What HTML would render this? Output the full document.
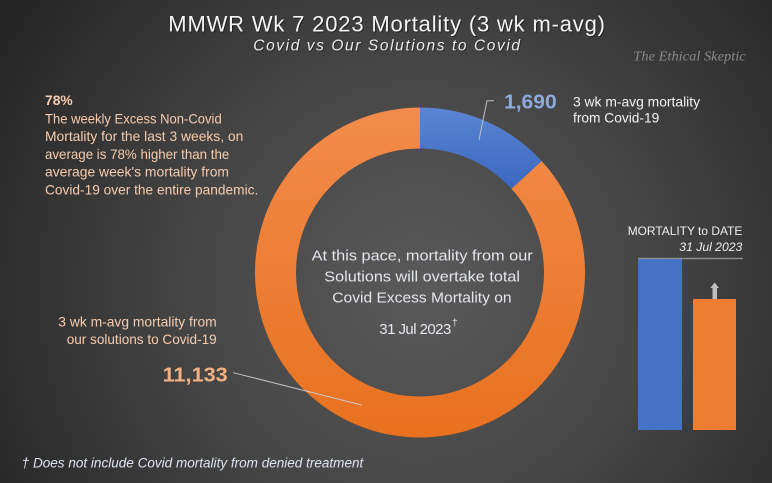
<!DOCTYPE html>
<html><head><meta charset="utf-8"><style>
html,body{margin:0;padding:0;background:#2a2a2a;}
svg{display:block;}
</style></head><body>
<svg width="772" height="483" viewBox="0 0 772 483" xmlns="http://www.w3.org/2000/svg">
<defs>
<radialGradient id="bg" cx="420" cy="290" r="500" gradientUnits="userSpaceOnUse">
<stop offset="0" stop-color="#5a5a5a"/>
<stop offset="0.45" stop-color="#464646"/>
<stop offset="1" stop-color="#242424"/>
</radialGradient>
<linearGradient id="og" x1="0" y1="107" x2="0" y2="438" gradientUnits="userSpaceOnUse">
<stop offset="0" stop-color="#f28b4c"/>
<stop offset="1" stop-color="#e8711e"/>
</linearGradient>
<linearGradient id="bgr" x1="0" y1="107" x2="0" y2="190" gradientUnits="userSpaceOnUse">
<stop offset="0" stop-color="#5b86d3"/>
<stop offset="1" stop-color="#3a67c1"/>
</linearGradient>
</defs>
<rect width="772" height="483" fill="url(#bg)"/>

<!-- Title -->
<text x="169.3" y="32.7" font-family="Liberation Sans, sans-serif" font-size="22" fill="#111" opacity="0.6" textLength="436.7" lengthAdjust="spacing">MMWR  Wk 7 2023 Mortality  (3 wk m-avg)</text>
<text x="168.3" y="31.7" font-family="Liberation Sans, sans-serif" font-size="22" fill="#f4f4f4" textLength="436.7" lengthAdjust="spacing">MMWR  Wk 7 2023 Mortality  (3 wk m-avg)</text>
<text x="254.3" y="51.7" font-family="Liberation Sans, sans-serif" font-style="italic" font-size="15.5" fill="#111" opacity="0.5" textLength="266.7" lengthAdjust="spacing">Covid vs Our Solutions to Covid</text>
<text x="253.3" y="50.7" font-family="Liberation Sans, sans-serif" font-style="italic" font-size="15.5" fill="#ececec" textLength="266.7" lengthAdjust="spacing">Covid vs Our Solutions to Covid</text>
<text x="633.3" y="60.7" font-family="Liberation Serif, serif" font-style="italic" font-size="14" fill="#8a8a8a" textLength="112.4" lengthAdjust="spacingAndGlyphs">The Ethical Skeptic</text>

<!-- Left text block -->
<g font-family="Liberation Sans, sans-serif" font-size="13.7" fill="#f8cbad">
<text x="45" y="105" font-weight="bold" textLength="27.7" lengthAdjust="spacingAndGlyphs">78%</text>
<text x="45" y="123.3" textLength="176.7" lengthAdjust="spacingAndGlyphs">The weekly Excess Non-Covid</text>
<text x="45" y="141.0" textLength="198.3" lengthAdjust="spacingAndGlyphs">Mortality for the last 3  weeks, on</text>
<text x="45" y="158.8" textLength="184.3" lengthAdjust="spacingAndGlyphs">average is 78%  higher than the</text>
<text x="45" y="176.5" textLength="184" lengthAdjust="spacingAndGlyphs">average week's mortality from</text>
<text x="45" y="194.3" textLength="213.3" lengthAdjust="spacingAndGlyphs">Covid-19 over the entire pandemic.</text>
</g>

<!-- Donut -->
<path d="M541.65,161.03 A165,165 0 1 1 420,107.5 L420,148.5 A124,124 0 1 0 511.42,188.73 Z" fill="url(#og)"/>
<path d="M420,107.5 A165,165 0 0 1 541.65,161.03 L511.42,188.73 A124,124 0 0 0 420,148.5 Z" fill="url(#bgr)"/>

<!-- Blue leader -->
<polyline points="479,140 487,100.7 494,100.7" fill="none" stroke="#bfbfbf" stroke-width="1"/>
<text x="504" y="108.3" font-family="Liberation Sans, sans-serif" font-weight="bold" font-size="20.5" fill="#8eaadc" textLength="52.7" lengthAdjust="spacingAndGlyphs">1,690</text>
<g font-family="Liberation Sans, sans-serif" font-size="13.7" fill="#f2f2f2">
<text x="573" y="106.7" textLength="127" lengthAdjust="spacingAndGlyphs">3 wk m-avg mortality</text>
<text x="573" y="122.7" textLength="86.3" lengthAdjust="spacingAndGlyphs">from Covid-19</text>
</g>

<!-- Center text -->
<g font-family="Liberation Sans, sans-serif" font-size="15" fill="#e2e5ec">
<text x="311.7" y="260.7" textLength="221" lengthAdjust="spacingAndGlyphs">At this pace,  mortality from our</text>
<text x="324.3" y="281.7" textLength="195.7" lengthAdjust="spacingAndGlyphs">Solutions will overtake total</text>
<text x="332.3" y="302.7" textLength="179.3" lengthAdjust="spacingAndGlyphs">Covid Excess  Mortality on</text>
<text x="379.3" y="334" textLength="72" lengthAdjust="spacing">31 Jul 2023</text>
<text x="452" y="326" font-size="10">†</text>
</g>

<!-- Bottom-left label -->
<g font-family="Liberation Sans, sans-serif" font-size="13.7" fill="#f8cbad">
<text x="58.3" y="326.5" textLength="158.4" lengthAdjust="spacingAndGlyphs">3 wk m-avg mortality from</text>
<text x="66.7" y="343.8" textLength="150" lengthAdjust="spacingAndGlyphs">our solutions to Covid-19</text>
</g>
<text x="162.7" y="381.7" font-family="Liberation Sans, sans-serif" font-weight="bold" font-size="20.5" fill="#f4b183" textLength="65" lengthAdjust="spacingAndGlyphs">11,133</text>
<line x1="233.3" y1="372.7" x2="361.7" y2="405" stroke="#c8c8c8" stroke-width="1"/>

<!-- Right bars -->
<g font-family="Liberation Sans, sans-serif" font-size="12" fill="#eeeeee">
<text x="627.7" y="235" textLength="114.6" lengthAdjust="spacingAndGlyphs">MORTALITY to DATE</text>
<text x="679.3" y="251" font-style="italic" textLength="63" lengthAdjust="spacingAndGlyphs">31 Jul 2023</text>
</g>
<rect x="638" y="258" width="44" height="172" fill="#4472c4"/>
<rect x="693" y="299" width="43" height="131" fill="#ed7d31"/>
<line x1="638" y1="258.5" x2="743" y2="258.5" stroke="#8c8c8c" stroke-width="1.5"/>
<rect x="712.5" y="288" width="4.5" height="11" fill="#bfbfbf"/>
<polygon points="710.3,288 719,288 714.7,282.5" fill="#bfbfbf"/>

<!-- Footnote -->
<text x="21.7" y="467.7" font-family="Liberation Sans, sans-serif" font-style="italic" font-size="13.5" fill="#dde3f0" textLength="341.6" lengthAdjust="spacingAndGlyphs">† Does not include Covid mortality from denied treatment</text>
</svg>
</body></html>
